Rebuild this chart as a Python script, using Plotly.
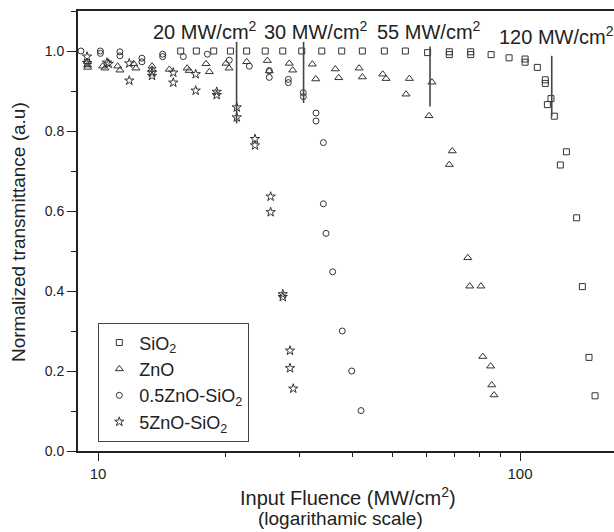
import plotly.graph_objects as go

# Input fluence (MW/cm^2) and normalized transmittance for each sample
sio2_x = [15.7, 17.1, 18.8, 20.6, 22.5, 24.9, 27.4, 30.4, 33.9, 37.8, 42.3, 47.7, 53.5, 60.4,
          68.0, 68.0, 76.4, 76.4, 85.4, 94.2, 102.8, 102.8, 109.9, 114.8, 114.8, 118.4, 116.1,
          120.6, 128.8, 124.6, 136.2, 140.5, 145.7, 150.6]
sio2_y = [1.0, 1.0, 1.0, 1.0, 1.0, 1.0, 1.0, 1.0, 1.0, 1.0, 1.0, 1.0, 1.0, 0.996,
          0.998, 0.991, 0.998, 0.991, 0.991, 0.983, 0.980, 0.972, 0.959, 0.928, 0.919, 0.881, 0.866,
          0.837, 0.748, 0.715, 0.583, 0.411, 0.234, 0.138]

zno_x = [9.45, 9.45, 9.45, 10.26, 10.39, 11.13, 11.27, 12.15, 12.30, 13.43, 13.43, 14.76, 16.27,
         16.45, 18.03, 18.36, 20.11, 20.44, 22.51, 25.19, 25.46, 28.40, 28.93, 32.20, 32.81, 36.50,
         37.19, 41.55, 42.30, 47.28, 48.15, 53.70, 54.68, 60.86, 61.87, 68.0, 69.1, 75.2, 76.0,
         80.8, 81.6, 85.2, 85.7, 86.8]
zno_y = [0.973, 0.965, 0.959, 0.962, 0.957, 0.962, 0.952, 0.968, 0.957, 0.962, 0.954, 0.954, 0.957,
         0.951, 0.968, 0.948, 0.969, 0.957, 0.973, 0.976, 0.950, 0.969, 0.952, 0.967, 0.930, 0.955,
         0.933, 0.957, 0.935, 0.942, 0.931, 0.892, 0.931, 0.838, 0.922, 0.716, 0.750, 0.483, 0.412,
         0.412, 0.236, 0.212, 0.165, 0.140]

zns05_x = [9.11, 10.13, 10.13, 11.27, 11.27, 12.71, 12.71, 14.23, 14.23, 15.93, 18.16, 20.47, 22.83,
           25.46, 25.46, 28.25, 28.25, 30.66, 30.66, 32.85, 32.85, 34.20, 34.20, 34.70, 35.98, 37.92,
           39.92, 42.0]
zns05_y = [1.0, 1.0, 0.994, 0.998, 0.988, 0.982, 0.973, 0.992, 0.986, 0.986, 0.992, 0.977, 0.962,
           0.951, 0.934, 0.929, 0.921, 0.896, 0.886, 0.845, 0.825, 0.771, 0.618, 0.544, 0.448, 0.300,
           0.200, 0.101]

zns5_x = [9.42, 9.42, 10.50, 10.60, 11.86, 11.86, 13.43, 13.43, 15.08, 15.08, 17.04, 17.04, 19.11,
          19.11, 21.32, 21.32, 23.55, 23.55, 25.65, 25.65, 27.40, 27.40, 28.51, 28.51, 29.02]
zns5_y = [0.986, 0.970, 0.971, 0.968, 0.969, 0.926, 0.946, 0.938, 0.946, 0.921, 0.942, 0.901, 0.898,
          0.890, 0.859, 0.834, 0.780, 0.764, 0.636, 0.597, 0.392, 0.385, 0.251, 0.207, 0.156]

# Threshold markers: vertical segments and their labels
thr_x = [21.3, 30.7, 61.2, 118.9]
thr_top = [1.023, 1.023, 1.011, 0.988]
thr_bottom = [0.819, 0.870, 0.861, 0.836]
thr_labels = ["20 MW/cm<sup>2</sup>", "30 MW/cm<sup>2</sup>", "55 MW/cm<sup>2</sup>", "120 MW/cm<sup>2</sup>"]

FONT = "Liberation Sans, Arial, sans-serif"
INK = "#333333"
TEXT = "#222222"

W, H = 614, 532
ML, MR, MT, MB = 78, 0, 11, 81
PW, PH = W - ML - MR, H - MT - MB


def px_to_paper_x(px):
    return (px - ML) / PW


def px_to_paper_y(py):
    return (H - MB - py) / PH


fig = go.Figure()

series = [
    ("SiO<sub>2</sub>", sio2_x, sio2_y, "square-open", 6),
    ("ZnO", zno_x, zno_y, "triangle-up-open", 7),
    ("0.5ZnO-SiO<sub>2</sub>", zns05_x, zns05_y, "circle-open", 6),
    ("5ZnO-SiO<sub>2</sub>", zns5_x, zns5_y, "star-open", 7),
]
for name, xs, ys, sym, size in series:
    fig.add_trace(go.Scatter(
        x=xs, y=ys, mode="markers", name=name,
        marker=dict(symbol=sym, size=size, color=INK, line=dict(width=1, color=INK)),
    ))

# vertical threshold segments
seg_x, seg_y = [], []
for xv, t, b in zip(thr_x, thr_top, thr_bottom):
    seg_x += [xv, xv, None]
    seg_y += [t, b, None]
fig.add_trace(go.Scatter(x=seg_x, y=seg_y, mode="lines", showlegend=False,
                         line=dict(color="#444444", width=1.6), hoverinfo="skip"))

annotations = []
label_left_px = [150.7, 261.7, 375.0, 497.3]
label_mid_py = [31, 31, 31, 35]
for txt, lx, ly in zip(thr_labels, label_left_px, label_mid_py):
    annotations.append(dict(text=txt, xref="paper", yref="paper",
                            x=px_to_paper_x(lx), y=px_to_paper_y(ly),
                            xanchor="left", yanchor="middle", showarrow=False,
                            font=dict(family=FONT, size=20, color=TEXT)))

# axis titles
annotations.append(dict(text="Normalized transmittance (a.u)", xref="paper", yref="paper",
                        x=px_to_paper_x(19), y=px_to_paper_y(232), textangle=-90,
                        xanchor="center", yanchor="middle", showarrow=False,
                        font=dict(family=FONT, size=19, color=TEXT)))
annotations.append(dict(text="Input Fluence (MW/cm<sup>2</sup>)", xref="paper", yref="paper",
                        x=px_to_paper_x(348), y=px_to_paper_y(496),
                        xanchor="center", yanchor="middle", showarrow=False,
                        font=dict(family=FONT, size=20, color=TEXT)))
annotations.append(dict(text="(logarithamic scale)", xref="paper", yref="paper",
                        x=px_to_paper_x(340), y=px_to_paper_y(518),
                        xanchor="center", yanchor="middle", showarrow=False,
                        font=dict(family=FONT, size=19, color=TEXT)))

fig.update_layout(
    width=W, height=H,
    margin=dict(l=ML, r=MR, t=MT, b=MB, autoexpand=False),
    paper_bgcolor="white", plot_bgcolor="white",
    font=dict(family=FONT, color=TEXT),
    annotations=annotations,
    legend=dict(
        x=px_to_paper_x(98), y=px_to_paper_y(323), xanchor="left", yanchor="top",
        bgcolor="white", bordercolor="#444444", borderwidth=1.3,
        font=dict(family=FONT, size=18, color=TEXT),
        itemwidth=30, tracegroupgap=0,
    ),
)

fig.update_xaxes(
    type="log", range=[0.9526, 2.2227],
    showline=True, linecolor="#222222", linewidth=2, mirror=True,
    showgrid=False, zeroline=False,
    tickmode="array", tickvals=[10, 100], ticktext=["10", "100"],
    ticks="outside", ticklen=8, tickwidth=1.3, tickcolor="#222222",
    tickfont=dict(family=FONT, size=15, color=TEXT),
    minor=dict(tickmode="array", tickvals=[20, 30, 40, 50, 60, 70, 80, 90, 200],
               ticks="outside", ticklen=4, tickwidth=1.2, tickcolor="#222222", showgrid=False),
)
fig.update_yaxes(
    range=[0, 1.1],
    showline=True, linecolor="#222222", linewidth=2, mirror=False,
    showgrid=False, zeroline=False,
    tickmode="linear", tick0=0, dtick=0.2, tickformat=".1f",
    ticks="outside", ticklen=9, tickwidth=1.3, tickcolor="#222222",
    tickfont=dict(family=FONT, size=14, color=TEXT),
    minor=dict(dtick=0.1, ticks="outside", ticklen=5, tickwidth=1.2, tickcolor="#222222",
               showgrid=False),
)

fig.write_html("out.html")
